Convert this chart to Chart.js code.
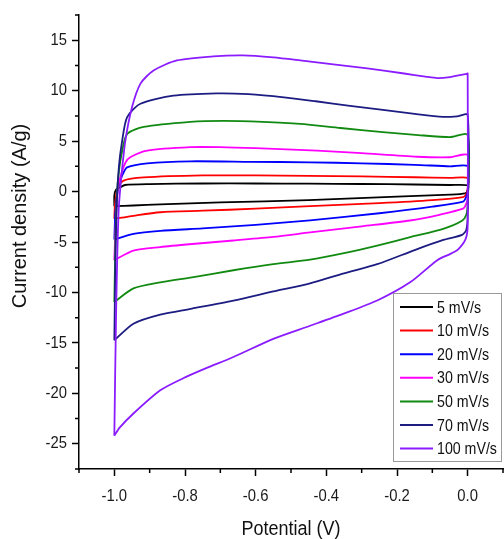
<!DOCTYPE html>
<html><head><meta charset="utf-8">
<style>html,body{margin:0;padding:0;background:#fff;}#wrap{width:504px;height:539px;position:relative;}</style>
<script src="https://cdn.jsdelivr.net/npm/chart.js@4.4.0/dist/chart.umd.min.js"></script>
</head><body><div id="wrap"><canvas id="c"></canvas></div>
<script>
const seriesLabels = ['5 mV/s','10 mV/s','20 mV/s','30 mV/s','50 mV/s','70 mV/s','100 mV/s'];
const seriesColors = ['#000000','#ff0000','#0000ff','#ff00ff','#118a11','#1c1c82','#8a1cff'];

const potential5 = [-1.0,-1.0,-0.995,-0.983,-0.97,-0.9,-0.75,-0.6,-0.45,-0.3,-0.15,-0.05,0.0,0.0,-0.007,-0.05,-0.2,-0.45,-0.7,-0.87,-0.946,-1.0];
const current5   = [-1.45,-0.4,0.2,0.43,0.65,0.74,0.8,0.8,0.78,0.75,0.7,0.65,0.62,0.1,-0.17,-0.3,-0.5,-0.85,-1.08,-1.27,-1.38,-1.45];

const potential10 = [-1.0,-0.998,-0.99,-0.974,-0.917,-0.75,-0.6,-0.45,-0.3,-0.15,-0.05,0.0,0.0,-0.005,-0.013,-0.1,-0.25,-0.446,-0.6,-0.75,-0.87,-0.946,-1.0];
const current10   = [-2.7,-1.2,0.4,1.09,1.4,1.6,1.6,1.55,1.5,1.42,1.35,1.35,0.3,-0.3,-0.55,-0.85,-1.15,-1.45,-1.7,-1.9,-2.05,-2.4,-2.7];

const potential20 = [-1.0,-0.997,-0.99,-0.983,-0.975,-0.964,-0.907,-0.785,-0.615,-0.446,-0.3,-0.15,-0.05,0.0,0.0,-0.005,-0.013,-0.1,-0.25,-0.446,-0.6,-0.75,-0.87,-0.946,-1.0];
const current20   = [-4.75,-2,0.2,1.1,1.8,2.4,2.8,3.0,2.95,2.9,2.8,2.65,2.5,2.5,0,-0.6,-1.0,-1.5,-2.15,-2.85,-3.3,-3.65,-3.9,-4.2,-4.75];

const potential30 = [-1.0,-0.996,-0.99,-0.98,-0.968,-0.955,-0.907,-0.785,-0.7,-0.6,-0.426,-0.3,-0.143,-0.05,0.0,0.0,-0.005,-0.013,-0.08,-0.163,-0.3,-0.446,-0.55,-0.663,-0.78,-0.87,-0.946,-1.0];
const current30   = [-6.8,-3,0.3,1.8,2.9,3.4,4.06,4.4,4.4,4.3,4.06,3.8,3.45,3.4,3.6,-0.6,-1.3,-1.7,-2.3,-2.87,-3.45,-4.05,-4.5,-4.85,-5.2,-5.5,-5.85,-6.8];

const potential50 = [-1.0,-0.997,-0.993,-0.987,-0.978,-0.964,-0.917,-0.785,-0.69,-0.58,-0.474,-0.36,-0.24,-0.14,-0.05,0.0,0.0,-0.004,-0.016,-0.069,-0.16,-0.256,-0.35,-0.446,-0.55,-0.663,-0.78,-0.87,-0.946,-1.0];
const current50   = [-10.95,-5,-0.5,2,4.0,5.7,6.4,6.9,7.0,6.9,6.7,6.3,5.9,5.6,5.4,5.6,-1.2,-2.3,-2.9,-3.7,-4.5,-5.35,-6.1,-6.75,-7.2,-7.8,-8.5,-9.0,-9.6,-10.95];

const potential70 = [-1.0,-0.997,-0.993,-0.987,-0.978,-0.964,-0.926,-0.833,-0.71,-0.62,-0.52,-0.43,-0.333,-0.24,-0.15,-0.07,-0.03,0.0,0.0,-0.004,-0.016,-0.069,-0.15,-0.256,-0.35,-0.446,-0.55,-0.663,-0.78,-0.87,-0.946,-1.0];
const current70   = [-14.75,-7,-1,2.5,5.0,7.36,8.7,9.5,9.73,9.65,9.34,8.95,8.5,8.1,7.7,7.4,7.45,7.6,-2.5,-3.8,-4.3,-4.8,-5.8,-7.2,-8.1,-9.1,-9.9,-10.8,-11.6,-12.2,-13.1,-14.75];

const potential100 = [-1.0,-0.995,-0.988,-0.98,-0.969,-0.95,-0.926,-0.889,-0.823,-0.72,-0.635,-0.55,-0.474,-0.38,-0.284,-0.18,-0.12,-0.086,-0.05,-0.004,0.0,0.0,-0.003,-0.01,-0.021,-0.031,-0.05,-0.086,-0.163,-0.256,-0.351,-0.446,-0.55,-0.663,-0.74,-0.805,-0.87,-0.946,-0.985,-1.0];
const current100   = [-24.2,-12,-2,1.5,5.0,8.35,10.7,12.0,13.0,13.4,13.5,13.3,13.0,12.6,12.2,11.7,11.4,11.25,11.35,11.65,11.7,-3.5,-4.4,-5.0,-5.5,-5.85,-6.2,-6.8,-9.0,-10.8,-12.1,-13.3,-14.6,-16.4,-17.5,-18.5,-19.7,-22.0,-23.4,-24.2];

const potentials = [potential5,potential10,potential20,potential30,potential50,potential70,potential100];
const currents = [current5,current10,current20,current30,current50,current70,current100];

const xMajorTicks = [-1.0,-0.8,-0.6,-0.4,-0.2,0.0];
const xMinorTicks = [-1.1,-0.9,-0.7,-0.5,-0.3,-0.1,0.1];
const yMajorTicks = [-25,-20,-15,-10,-5,0,5,10,15];
const yMinorTicks = [-27.5,-22.5,-17.5,-12.5,-7.5,-2.5,2.5,7.5,12.5,17.5];

const xTitle = 'Potential (V)';
const yTitle = 'Current density (A/g)';

const FONT = "'Liberation Sans',Arial,sans-serif";

const datasets = seriesLabels.map((lab, i) => ({
  label: lab,
  data: potentials[i].map((x, k) => ({x: x, y: currents[i][k]})),
  borderColor: seriesColors[i],
  backgroundColor: seriesColors[i],
  borderWidth: 1.8,
  showLine: true,
  pointRadius: 0,
  tension: 0.25,
  fill: false,
  order: seriesLabels.length - i
}));

function sText(ctx, txt, x, y, sx, align) {
  ctx.save();
  ctx.translate(x, y);
  ctx.scale(sx, 1);
  ctx.textAlign = align;
  ctx.fillText(txt, 0, 0);
  ctx.restore();
}

const extras = {
  id: 'extras',
  afterDraw(chart) {
    const {ctx, chartArea: ca, scales: {x, y}} = chart;
    ctx.save();
    // minor ticks
    ctx.strokeStyle = '#000'; ctx.lineWidth = 1.5;
    ctx.beginPath();
    xMinorTicks.forEach(v => { const p = x.getPixelForValue(v); ctx.moveTo(p, ca.bottom); ctx.lineTo(p, ca.bottom + 4); });
    yMinorTicks.forEach(v => { const p = y.getPixelForValue(v); ctx.moveTo(ca.left, p); ctx.lineTo(ca.left - 4, p); });
    ctx.stroke();
    // tick labels (slightly condensed, like the reference)
    ctx.fillStyle = '#1a1a1a';
    ctx.font = '17px ' + FONT;
    ctx.textBaseline = 'middle';
    yMajorTicks.forEach(v => { sText(ctx, String(v), ca.left - 12, y.getPixelForValue(v), 0.87, 'right'); });
    ctx.font = '16.5px ' + FONT;
    ctx.textBaseline = 'alphabetic';
    xMajorTicks.forEach(v => { sText(ctx, v.toFixed(1), x.getPixelForValue(v), ca.bottom + 32, 0.9, 'center'); });
    // axis titles
    ctx.fillStyle = '#111';
    ctx.font = '20px ' + FONT;
    sText(ctx, xTitle, (ca.left + ca.right) / 2, ca.bottom + 66, 0.9, 'center');
    ctx.save();
    ctx.translate(20, 216);
    ctx.rotate(-Math.PI / 2);
    ctx.textAlign = 'center'; ctx.textBaseline = 'middle';
    ctx.fillText(yTitle, 0, 0);
    ctx.restore();
    // legend
    const boxL = ca.right - 110, boxR = ca.right - 1, boxB = ca.bottom - 7, boxT = boxB - 169;
    ctx.fillStyle = '#fff';
    ctx.fillRect(boxL, boxT, boxR - boxL, boxB - boxT);
    ctx.strokeStyle = '#999'; ctx.lineWidth = 1;
    ctx.strokeRect(boxL + 0.5, boxT + 0.5, boxR - boxL - 1, boxB - boxT - 1);
    ctx.font = '16.5px ' + FONT;
    ctx.textBaseline = 'middle';
    chart.data.datasets.forEach((ds, i) => {
      const cy = boxT + 14 + i * 23.6;
      ctx.strokeStyle = ds.borderColor; ctx.lineWidth = 2;
      ctx.beginPath(); ctx.moveTo(boxL + 7, cy); ctx.lineTo(boxL + 40, cy); ctx.stroke();
      ctx.fillStyle = '#111';
      sText(ctx, ds.label, boxL + 44, cy + 1, 0.86, 'left');
    });
    ctx.restore();
  }
};

new Chart(document.getElementById('c'), {
  type: 'scatter',
  data: {datasets},
  options: {
    responsive: true, maintainAspectRatio: false, animation: false,
    layout: {padding: {top: 15, right: 1, left: 0, bottom: 0}},
    plugins: {legend: {display: false}, tooltip: {enabled: false}},
    scales: {
      x: {
        type: 'linear', min: -1.1, max: 0.1,
        afterBuildTicks: s => { s.ticks = xMajorTicks.map(v => ({value: v})); },
        afterFit: s => { s.height = 70; },
        ticks: {callback: v => Number(v).toFixed(1), color: 'rgba(0,0,0,0)', font: {size: 16}, padding: 10, autoSkip: false, maxRotation: 0},
        grid: {drawOnChartArea: false, drawTicks: true, tickLength: 7, tickColor: '#000', tickWidth: 1.5},
        border: {display: true, color: '#000', width: 1.5}
      },
      y: {
        type: 'linear', min: -27.5, max: 17.5,
        afterBuildTicks: s => { s.ticks = yMajorTicks.map(v => ({value: v})); },
        afterFit: s => { s.width = 79; },
        ticks: {callback: v => String(v), color: 'rgba(0,0,0,0)', font: {size: 16}, padding: 4, autoSkip: false},
        grid: {drawOnChartArea: false, drawTicks: true, tickLength: 7, tickColor: '#000', tickWidth: 1.5},
        border: {display: true, color: '#000', width: 1.5}
      }
    }
  },
  plugins: [extras]
});
</script></body></html>
